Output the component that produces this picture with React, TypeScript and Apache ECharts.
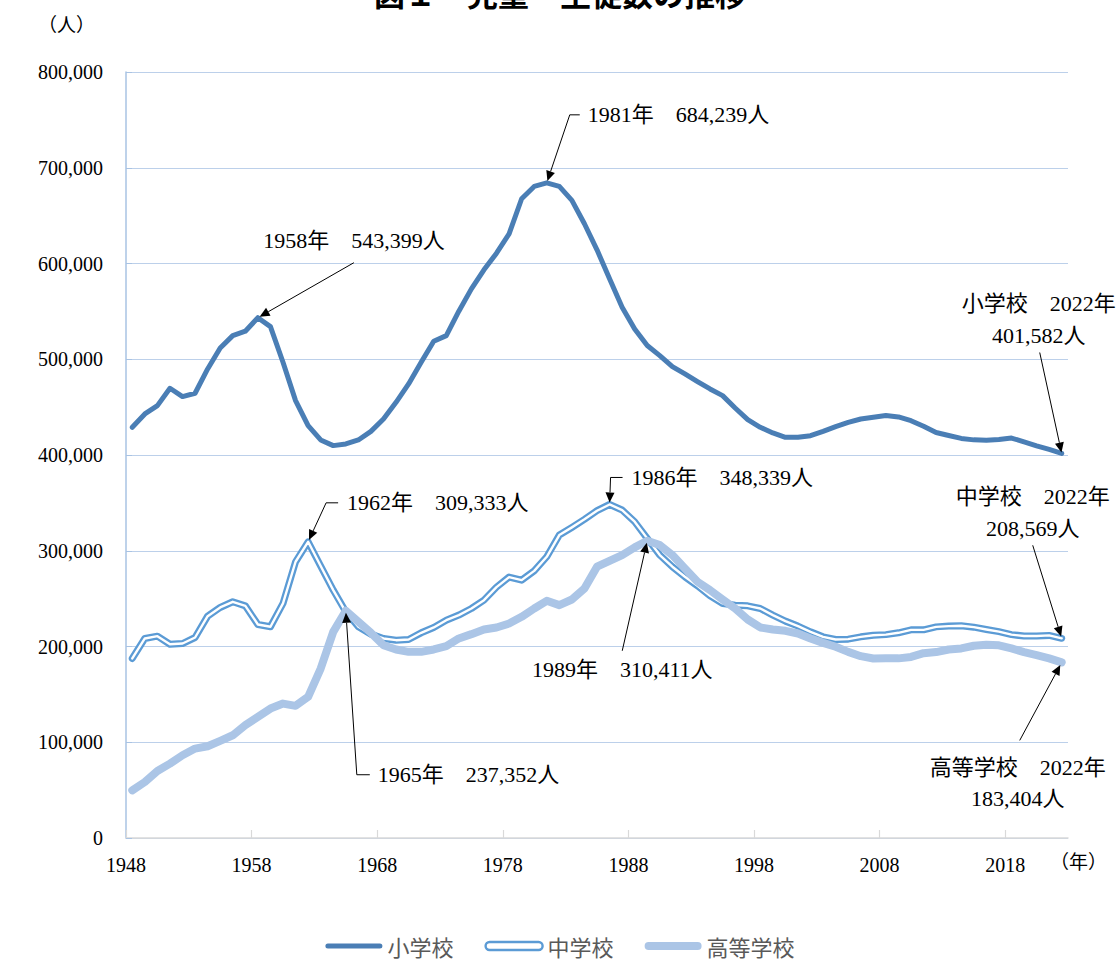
import React, { useEffect, useRef } from "react";
import * as echarts from "echarts";

const years = [
  1948, 1949, 1950, 1951, 1952, 1953, 1954, 1955, 1956, 1957,
  1958, 1959, 1960, 1961, 1962, 1963, 1964, 1965, 1966, 1967,
  1968, 1969, 1970, 1971, 1972, 1973, 1974, 1975, 1976, 1977,
  1978, 1979, 1980, 1981, 1982, 1983, 1984, 1985, 1986, 1987,
  1988, 1989, 1990, 1991, 1992, 1993, 1994, 1995, 1996, 1997,
  1998, 1999, 2000, 2001, 2002, 2003, 2004, 2005, 2006, 2007,
  2008, 2009, 2010, 2011, 2012, 2013, 2014, 2015, 2016, 2017,
  2018, 2019, 2020, 2021, 2022,
];

// 小学校
const primary = [
  428900, 442900, 451600, 469700, 461000, 464500, 489900, 511800, 524700, 529300,
  543399, 534100, 496900, 456800, 430700, 415700, 409800, 411500, 415700, 424700,
  437600, 455000, 474200, 496900, 518800, 524700, 550200, 573500, 593400, 610800,
  631000, 667600, 680500, 684239, 680500, 665900, 641500, 614300, 584000, 554400,
  531700, 514300, 503800, 492300, 484700, 476700, 469000, 462000, 449100, 436900,
  428900, 423000, 418500, 418500, 420200, 424700, 429600, 434000, 437600, 439500,
  441300, 439800, 435800, 430000, 423500, 420400, 417300, 415800, 415400, 416200,
  417700, 413800, 409600, 405800, 401582,
];

// 中学校
const middle = [
  187500, 208400, 210800, 202400, 203100, 209400, 231700, 240800, 246700, 242500,
  223000, 220600, 245000, 288500, 309333, 284000, 258900, 236200, 220600, 212900,
  208400, 206600, 207300, 214300, 219900, 227500, 232800, 239700, 248400, 262000,
  272500, 269300, 279000, 293700, 316400, 324400, 332800, 341800, 348339, 342500,
  330300, 312900, 295500, 283300, 272800, 263400, 253000, 245000, 243200, 242500,
  239700, 232800, 226500, 221300, 215300, 210100, 207300, 207700, 210100, 211800,
  212400, 214300, 217400, 217400, 220500, 221300, 221700, 220200, 217800, 215500,
  212400, 210900, 210900, 211600, 208569,
];

// 高等学校
const high = [
  49800, 58500, 70000, 77700, 86400, 93400, 95800, 101400, 107300, 117800,
  126500, 135200, 140400, 138000, 147400, 177000, 215300, 237352, 225800, 214300,
  201400, 196900, 194400, 194400, 196900, 200300, 208400, 212900, 217800, 219900,
  224000, 231000, 239700, 247700, 243200, 249100, 260600, 283300, 289500, 295500,
  303500, 310411, 306000, 295500, 281500, 267600, 258900, 249100, 239700, 228200,
  219900, 217800, 216400, 213600, 208400, 203800, 199700, 194400, 189900, 187500,
  187600, 187600, 189100, 193000, 194200, 196900, 198000, 200800, 201900, 201200,
  198000, 194200, 191100, 187600, 183404,
];

const xLabelYears = [1948, 1958, 1968, 1978, 1988, 1998, 2008, 2018];

const TITLE = "図１　児童・生徒数の推移";
const SERIF = '"Liberation Serif", "Noto Sans CJK JP", serif';
const SANS = '"Noto Sans CJK JP", "Noto Sans", sans-serif';

const C_PRIMARY = "#4a7eb5";
const C_MIDDLE = "#5b9bd5";
const C_HIGH = "#abc5e6";

const fmt = (v: number) => v.toLocaleString("en-US");

export default function App() {
  const ref = useRef<HTMLDivElement>(null);

  useEffect(() => {
    document.body.style.margin = "0";
    const chart = echarts.init(ref.current!, null, { renderer: "svg" });
    const pair = (arr: number[]) => years.map((y, i) => [y, arr[i]]);
    const tickVals = xLabelYears.map((y) => y - 0.5);

    const option: any = {
      animation: false,
      backgroundColor: "#ffffff",
      title: {
        text: TITLE,
        left: "center",
        top: -23,
        padding: 0,
        textStyle: { fontSize: 31, fontWeight: "bold", fontFamily: SANS, color: "#000" },
      },
      grid: { left: 126, right: 52, top: 72, bottom: 125, containLabel: false, outerBoundsMode: "none" },
      legend: {
        top: 930,
        left: "center",
        itemWidth: 57,
        itemHeight: 8,
        itemGap: 31,
        textStyle: { fontSize: 22, color: "#595959", fontFamily: SANS },
        data: [
          {
            name: "小学校",
            icon: "path://M2.5,0 L54.5,0 A2.5,2.5 0 0 1 54.5,5 L2.5,5 A2.5,2.5 0 0 1 2.5,0 Z",
            itemStyle: { color: C_PRIMARY, borderWidth: 0 },
          },
          {
            name: "中学校",
            icon: "path://M4,0 L53,0 A4,4 0 0 1 53,8 L4,8 A4,4 0 0 1 4,0 Z",
            itemStyle: { color: "#ffffff", borderColor: C_MIDDLE, borderWidth: 2.4 },
          },
          {
            name: "高等学校",
            icon: "path://M4,0 L53,0 A4,4 0 0 1 53,8 L4,8 A4,4 0 0 1 4,0 Z",
            itemStyle: { color: C_HIGH, borderWidth: 0 },
          },
        ],
      },
      xAxis: {
        type: "value",
        min: 1947.5,
        max: 2022.5,
        axisLine: { show: true, lineStyle: { color: "#d9d9d9", width: 1.5 } },
        axisTick: { show: true, inside: true, length: 8, lineStyle: { color: "#d9d9d9", width: 1.2 }, customValues: tickVals },
        axisLabel: {
          customValues: tickVals,
          formatter: (v: number) => String(Math.round(v + 0.5)),
          fontSize: 20,
          fontFamily: SERIF,
          color: "#000",
          margin: 17,
        },
        splitLine: { show: false },
      },
      yAxis: {
        type: "value",
        min: 0,
        max: 800000,
        interval: 100000,
        axisLine: { show: true, lineStyle: { color: "#a9c3e3", width: 1.5 } },
        axisTick: { show: true, inside: true, length: 6, lineStyle: { color: "#a9c3e3" } },
        axisLabel: { formatter: (v: number) => fmt(v), fontSize: 20, fontFamily: SERIF, color: "#000", margin: 23 },
        splitLine: { show: true, lineStyle: { color: "#bcd0ea", width: 1 } },
      },
      series: [
        {
          name: "小学校",
          type: "line",
          data: pair(primary),
          symbol: "none",
          lineStyle: { color: C_PRIMARY, width: 5, cap: "round", join: "round" },
          itemStyle: { color: C_PRIMARY },
          z: 3,
        },
        {
          name: "中学校",
          type: "line",
          data: pair(middle),
          symbol: "none",
          lineStyle: { color: C_MIDDLE, width: 7, cap: "round", join: "round" },
          itemStyle: { color: C_MIDDLE },
          z: 4,
        },
        {
          name: "中学校",
          type: "line",
          data: pair(middle),
          symbol: "none",
          lineStyle: { color: "#ffffff", width: 2.4, cap: "round", join: "round" },
          itemStyle: { color: "#ffffff" },
          z: 5,
        },
        {
          name: "高等学校",
          type: "line",
          data: pair(high),
          symbol: "none",
          lineStyle: { color: C_HIGH, width: 8, cap: "round", join: "round" },
          itemStyle: { color: C_HIGH },
          z: 6,
        },
      ],
    };
    chart.setOption(option);

    const valAt = (arr: number[], yr: number) => arr[years.indexOf(yr)];
    const P = (arr: number[], yr: number) =>
      chart.convertToPixel({ gridIndex: 0 } as any, [yr, valAt(arr, yr)]) as number[];

    const els: any[] = [];
    const arrow = (pts: number[][], tip: number[], gap = 2) => {
      const last = pts[pts.length - 1];
      const dx = tip[0] - last[0];
      const dy = tip[1] - last[1];
      const len = Math.hypot(dx, dy) || 1;
      const ux = dx / len;
      const uy = dy / len;
      const t = [tip[0] - ux * gap, tip[1] - uy * gap];
      const b = [t[0] - ux * 10, t[1] - uy * 10];
      const nx = -uy;
      const ny = ux;
      els.push({
        type: "polyline",
        shape: { points: [...pts, b] },
        style: { stroke: "#000", lineWidth: 1, fill: null },
        z: 100,
      });
      els.push({
        type: "polygon",
        shape: { points: [t, [b[0] + nx * 4.5, b[1] + ny * 4.5], [b[0] - nx * 4.5, b[1] - ny * 4.5]] },
        style: { fill: "#000" },
        z: 100,
      });
    };
    const text = (x: number, y: number, s: string, align = "left") => {
      els.push({
        type: "text",
        x,
        y,
        style: {
          text: s,
          fontSize: 22,
          fontFamily: SERIF,
          fill: "#000",
          textAlign: align,
          align,
          textVerticalAlign: "middle",
          verticalAlign: "middle",
        },
        z: 100,
      });
    };
    const peak = (arr: number[], yr: number) => `${yr}年　${fmt(valAt(arr, yr))}人`;

    // 1958 小学校
    {
      const p = P(primary, 1958);
      text(p[0] + 96, p[1] - 77, peak(primary, 1958), "center");
      arrow([[p[0] + 96, p[1] - 55]], p, 2);
    }
    // 1981 小学校
    {
      const p = P(primary, 1981);
      text(p[0] + 41, p[1] - 68, peak(primary, 1981));
      arrow([[p[0] + 33, p[1] - 68], [p[0] + 23, p[1] - 68]], p, 2);
    }
    // 1962 中学校
    {
      const p = P(middle, 1962);
      text(p[0] + 39, p[1] - 39, peak(middle, 1962));
      arrow([[p[0] + 30, p[1] - 39], [p[0] + 18, p[1] - 39]], p, 2);
    }
    // 1965 高等学校
    {
      const p = P(high, 1965);
      text(p[0] + 32, p[1] + 164, peak(high, 1965));
      arrow([[p[0] + 24, p[1] + 164], [p[0] + 11, p[1] + 164]], p, 2);
    }
    // 1986 中学校
    {
      const p = P(middle, 1986);
      text(p[0] + 22, p[1] - 27, peak(middle, 1986));
      arrow([[p[0] + 13, p[1] - 27], [p[0] + 1, p[1] - 27]], p, 2);
    }
    // 1989 高等学校
    {
      const p = P(high, 1989);
      text(p[0] - 25, p[1] + 129, peak(high, 1989), "center");
      arrow([[p[0] - 25, p[1] + 110]], p, 2);
    }
    // 2022 labels
    {
      const p = P(primary, 2022);
      text(p[0] - 23, p[1] - 150, "小学校　2022年", "center");
      text(p[0] - 23, p[1] - 118, `${fmt(valAt(primary, 2022))}人`, "center");
      arrow([[p[0] - 22, p[1] - 101]], p, 1);
    }
    {
      const p = P(middle, 2022);
      text(p[0] - 29, p[1] - 142, "中学校　2022年", "center");
      text(p[0] - 29, p[1] - 110, `${fmt(valAt(middle, 2022))}人`, "center");
      arrow([[p[0] - 29, p[1] - 93]], p, 2);
    }
    {
      const p = P(high, 2022);
      text(p[0] - 44, p[1] + 105, "高等学校　2022年", "center");
      text(p[0] - 44, p[1] + 136, `${fmt(valAt(high, 2022))}人`, "center");
      arrow([[p[0] - 42, p[1] + 78]], p, 3);
    }
    // units
    els.push({
      type: "text",
      x: 38,
      y: 25,
      style: { text: "（人）", fontSize: 19, fontFamily: SERIF, fill: "#000", textVerticalAlign: "middle", verticalAlign: "middle" },
    });
    els.push({
      type: "text",
      x: 1050,
      y: 862,
      style: { text: "（年）", fontSize: 19, fontFamily: SERIF, fill: "#000", textVerticalAlign: "middle", verticalAlign: "middle" },
    });

    chart.setOption({ graphic: { elements: els } });

    return () => chart.dispose();
  }, []);

  return <div ref={ref} style={{ position: "fixed", left: 0, top: 0, width: 1120, height: 963 }} />;
}
